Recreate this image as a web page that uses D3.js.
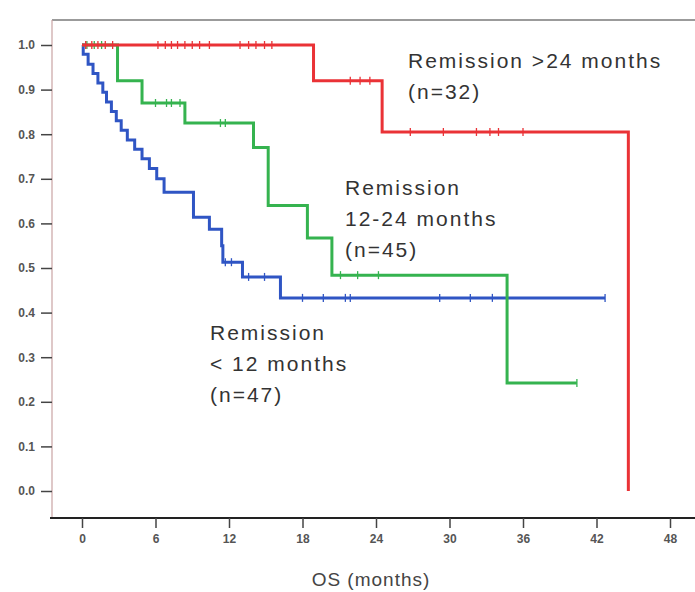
<!DOCTYPE html>
<html>
<head>
<meta charset="utf-8">
<script src="https://cdn.jsdelivr.net/npm/d3@7"></script>
<style>
  html, body { margin: 0; padding: 0; background: #fff; }
  svg { display: block; }
</style>
</head>
<body>
<svg id="chart" width="695" height="592"></svg>
<script>
// ---- data ----
const xTicks = [0, 6, 12, 18, 24, 30, 36, 42, 48];
const yTicks = [0.0, 0.1, 0.2, 0.3, 0.4, 0.5, 0.6, 0.7, 0.8, 0.9, 1.0];

const seriesNames = ["Remission < 12 months", "Remission 12-24 months", "Remission >24 months"];

const blueTimes = [0, 0.1, 0.5, 0.9, 1.3, 1.7, 2.0, 2.4, 2.8, 3.2, 3.7, 4.3, 4.9, 5.5, 6.1, 6.7, 9.1, 10.4, 11.4, 11.5, 13.1, 16.2, 42.7];
const blueSurv  = [1.0, 0.979, 0.957, 0.936, 0.915, 0.894, 0.872, 0.851, 0.830, 0.809, 0.787, 0.766, 0.745, 0.723, 0.700, 0.670, 0.614, 0.587, 0.550, 0.513, 0.480, 0.433, 0.433];
const blueCensor = [11.7, 12.2, 13.6, 14.9, 18.0, 19.7, 21.5, 21.9, 29.2, 31.7, 33.5, 42.7];

const greenTimes = [0, 2.9, 4.9, 8.4, 14.0, 15.2, 18.4, 20.4, 34.7, 40.4];
const greenSurv  = [1.0, 0.92, 0.87, 0.825, 0.77, 0.64, 0.567, 0.484, 0.242, 0.242];
const greenCensor = [0.4, 1.0, 1.6, 6.0, 6.9, 7.3, 8.0, 11.3, 11.7, 21.1, 22.5, 24.2, 40.4];

const redTimes = [0, 18.9, 24.5, 44.6];
const redSurv  = [1.0, 0.92, 0.805, 0.0];
const redCensor = [0.3, 0.8, 1.3, 1.9, 2.5, 6.2, 6.8, 7.3, 7.8, 8.4, 9.0, 9.6, 10.4, 12.9, 13.6, 14.2, 14.9, 15.5, 21.9, 22.7, 23.5, 26.8, 29.5, 32.2, 33.3, 34.0, 36.0];

const labelBlue  = ["Remission", "< 12 months", "(n=47)"];
const labelGreen = ["Remission", "12-24 months", "(n=45)"];
const labelRed   = ["Remission >24 months", "(n=32)"];

// ---- layout ----
const svg = d3.select("#chart");
const x = d3.scaleLinear().domain([0, 48]).range([82, 670]);
const y = d3.scaleLinear().domain([0, 1]).range([491, 45]);
const axisY = 518, axisX = 52, topY = 20;

// frame
svg.append("line").attr("x1", axisX).attr("x2", 695).attr("y1", topY).attr("y2", topY)
  .attr("stroke", "#7a7a7a").attr("stroke-width", 1.5);
svg.append("line").attr("x1", axisX).attr("x2", axisX).attr("y1", topY).attr("y2", axisY)
  .attr("stroke", "#c9a3a3").attr("stroke-width", 1.2);
svg.append("line").attr("x1", 50).attr("x2", 695).attr("y1", axisY).attr("y2", axisY)
  .attr("stroke", "#222").attr("stroke-width", 2);

// y axis
const gy = svg.append("g").attr("transform", `translate(${axisX},0)`)
  .call(d3.axisLeft(y).tickValues(yTicks).tickFormat(d3.format(".1f")).tickSize(11).tickPadding(6));
gy.select(".domain").remove();
gy.selectAll(".tick line").attr("stroke", "#444").attr("stroke-width", 1.5);
gy.selectAll(".tick text").attr("fill", "#555").style("font-family", "Liberation Sans, Arial, sans-serif")
  .style("font-size", "12px").style("font-weight", "bold");

// x axis
const gx = svg.append("g").attr("transform", `translate(0,${axisY})`)
  .call(d3.axisBottom(x).tickValues(xTicks).tickFormat(d3.format("d")).tickSize(10).tickPadding(6));
gx.select(".domain").remove();
gx.selectAll(".tick line").attr("stroke", "#444").attr("stroke-width", 1.5);
gx.selectAll(".tick text").attr("fill", "#555").style("font-family", "Liberation Sans, Arial, sans-serif")
  .style("font-size", "12px").style("font-weight", "bold");

svg.append("text").attr("x", 371).attr("y", 586).attr("text-anchor", "middle")
  .attr("fill", "#444").style("font-family", "Liberation Sans, Arial, sans-serif")
  .style("font-size", "19px").style("letter-spacing", "1px").text("OS (months)");

// curves
const line = d3.line().x(d => x(d[0])).y(d => y(d[1])).curve(d3.curveStepAfter);
function survAt(times, surv, t) {
  let v = surv[0];
  for (let i = 0; i < times.length; i++) if (times[i] <= t) v = surv[i];
  return v;
}
function drawSeries(times, surv, censor, color) {
  const pts = times.map((t, i) => [t, surv[i]]);
  svg.append("path").datum(pts).attr("d", line).attr("fill", "none")
    .attr("stroke", color).attr("stroke-width", 3).attr("stroke-linejoin", "miter");
  svg.append("g").selectAll("line").data(censor).join("line")
    .attr("x1", d => x(d)).attr("x2", d => x(d))
    .attr("y1", d => y(survAt(times, surv, d)) - 4)
    .attr("y2", d => y(survAt(times, surv, d)) + 4)
    .attr("stroke", color).attr("stroke-width", 1.3);
}
drawSeries(blueTimes, blueSurv, blueCensor, "#2f55c4");
drawSeries(greenTimes, greenSurv, greenCensor, "#35b34f");
drawSeries(redTimes, redSurv, redCensor, "#ea3236");

// labels
function label(lines, x0, y0) {
  const t = svg.append("text").attr("fill", "#333")
    .style("font-family", "Liberation Sans, Arial, sans-serif")
    .style("font-size", "21px").style("letter-spacing", "2px");
  lines.forEach((s, i) => t.append("tspan").attr("x", x0).attr("y", y0 + i * 31).text(s));
}
label(labelRed, 408, 68);
label(labelGreen, 345, 195);
label(labelBlue, 210, 340);
</script>
</body>
</html>
